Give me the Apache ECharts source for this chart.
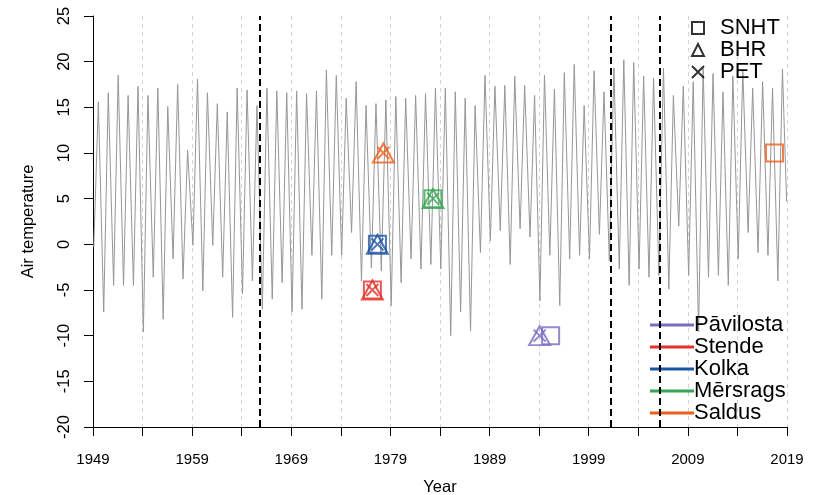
<!DOCTYPE html>
<html>
<head>
<meta charset="utf-8">
<script src="https://cdn.jsdelivr.net/npm/echarts@6/dist/echarts.min.js"></script>
<style>html,body{margin:0;padding:0;background:#fff}#c{width:819px;height:495px}</style>
</head>
<body>
<div id="c"></div>
<script>
// ---- data ----
const years = [];
for (let y = 1949; y <= 2018; y++) years.push(y);
// winter (January) minimum of each year, °C
const winterMin = [-0.3,-7.4,-4.5,-4.5,-4.5,-9.6,-3.6,-8.2,-1.6,-3.8,
  -0.1,-5.1,-0.1,-3.6,-8.0,-5.4,-4.0,-7.1,-6.0,-4.2,
  -7.4,-7.1,-1.2,-6.0,-1.2,-1.2,1.3,-4.0,-2.6,-2.9,
  -6.7,-4.2,-1.6,-2.7,-2.2,-2.7,-10.0,-7.4,-9.5,-0.9,
  0.4,1.5,-2.2,1.7,0.8,-6.2,-1.2,-6.7,-1.6,-1.2,
  -1.6,1.1,-1.8,-2.7,-4.5,-2.7,-3.6,-3.4,-4.9,2.0,
  -3.4,-9.6,-3.6,-3.4,-4.5,-1.6,1.3,-0.9,-1.2,-4.0];
// summer (July) maximum of each year, °C
const summerMax = [15.6,16.6,18.5,16.3,17.3,16.3,17.1,15.1,17.5,10.3,
  18.1,16.6,15.4,14.5,17.1,16.9,15.2,17.1,16.8,16.6,
  16.8,16.5,16.8,19.1,18.5,16.0,17.8,15.2,15.4,15.8,
  16.2,16.0,16.3,16.5,17.1,17.1,16.7,16.0,15.2,18.5,
  17.3,17.4,18.4,17.4,16.3,18.5,17.0,18.8,19.7,15.2,
  19.0,16.7,19.3,20.2,19.9,18.4,18.2,19.3,16.3,17.3,
  17.8,19.3,18.7,16.7,18.4,19.1,17.1,17.8,17.1,19.2];
const lastTime = 2018.96, lastValue = 4.7;

const changePoints = [1965.84, 2001.26, 2006.14];

const stations = ['Pāvilosta', 'Stende', 'Kolka', 'Mērsrags', 'Saldus'];
const stationColors = ['#7b6cc0', '#e2322b', '#1b55a6', '#35a652', '#ec5f1c'];
const stationLevel = [-10, -5, 0, 5, 10];
const snhtYears = [1995.16, 1977.18, 1977.69, 1983.29, 2017.74];
const bhrYears  = [1994.05, 1977.18, 1977.69, 1983.29, 1978.29];
const petYears  = [1994.05, 1977.18, 1977.69, 1983.29, 1978.29];
const methods = ['SNHT', 'BHR', 'PET'];

const xTicks = {min: 1949, max: 2019, step: 5, labelStep: 10};
const yTicks = {min: -20, max: 25, step: 5};

// ---- build ----
const tsData = [];
years.forEach((y, i) => {
  tsData.push([y + 0.08, winterMin[i]]);
  tsData.push([y + 0.54, summerMax[i]]);
});
tsData.push([lastTime, lastValue]);

const FONT = "'Liberation Sans', Arial, sans-serif";
function marks(yrs) {
  return yrs.map((y, i) => ({
    value: [y, stationLevel[i]],
    itemStyle: {color: 'transparent', borderColor: stationColors[i], borderWidth: 2}
  }));
}
const methodSymbols = ['rect', 'triangle', 'path://M0,0L10,10M0,10L10,0'];
const methodSizes = [[17, 17], [21, 19], [12, 12]];
const methodYears = [snhtYears, bhrYears, petYears];

const series = [{
  type: 'line', name: 'ts', data: tsData, showSymbol: false, symbol: 'none',
  lineStyle: {color: '#969696', width: 1}, silent: true, z: 2,
  markLine: {
    symbol: 'none', silent: true, label: {show: false},
    lineStyle: {color: '#000', width: 2, type: [7, 4]},
    data: changePoints.map(x => ({xAxis: x}))
  }
}];
methods.forEach((m, k) => {
  series.push({
    type: 'scatter', name: m, symbol: methodSymbols[k], symbolSize: methodSizes[k],
    itemStyle: {color: 'transparent', borderColor: '#000', borderWidth: 1.3},
    data: marks(methodYears[k]), z: 5
  });
});
stations.forEach((s, i) => {
  series.push({type: 'line', name: s, data: [], color: stationColors[i],
    itemStyle: {color: stationColors[i]}, lineStyle: {color: stationColors[i], width: 3}});
});

const chart = echarts.init(document.getElementById('c'), null, {renderer: 'canvas'});
chart.setOption({
  animation: false,
  backgroundColor: '#fff',
  textStyle: {fontFamily: FONT},
  grid: {left: 93, right: 32, top: 16, bottom: 68, containLabel: false, outerBoundsMode: 'none'},
  xAxis: {
    type: 'value', min: xTicks.min, max: xTicks.max, interval: xTicks.step,
    name: 'Year', nameLocation: 'middle', nameGap: 52,
    nameTextStyle: {fontSize: 16.5, color: '#000', fontFamily: FONT},
    axisLine: {show: true, onZero: false, lineStyle: {color: '#000', width: 1}},
    axisTick: {show: true, length: 9, lineStyle: {color: '#000'}},
    axisLabel: {
      fontSize: 15, color: '#000', margin: 25, fontFamily: FONT,
      formatter: v => ((v - xTicks.min) % xTicks.labelStep === 0 ? String(v) : '')
    },
    splitLine: {show: true, lineStyle: {color: '#d4d4d4', type: [4, 4], width: 1}}
  },
  yAxis: {
    type: 'value', min: yTicks.min, max: yTicks.max, interval: yTicks.step,
    name: 'Air temperature', nameLocation: 'middle', nameGap: 56,
    nameTextStyle: {fontSize: 16.5, color: '#000', fontFamily: FONT},
    axisLine: {show: true, onZero: false, lineStyle: {color: '#000', width: 1}},
    axisTick: {show: true, length: 9, lineStyle: {color: '#000'}},
    axisLabel: {fontSize: 16.5, color: '#000', rotate: 90, margin: 20, fontFamily: FONT},
    splitLine: {show: false}
  },
  legend: [{
    orient: 'vertical', left: 686, top: 12, itemGap: 0,
    itemWidth: 12, itemHeight: 12, selectedMode: false,
    data: methods.map(m => ({name: m})),
    textStyle: {fontSize: 22, color: '#000', lineHeight: 21.5, padding: [0, 0, 0, 11], fontFamily: FONT}
  }, {
    orient: 'vertical', left: 645, top: 309, itemGap: 0,
    itemWidth: 44, itemHeight: 3, icon: 'rect', selectedMode: false,
    data: stations.map(s => ({name: s})),
    textStyle: {fontSize: 22, color: '#000', lineHeight: 20.8, padding: [0, 0, 0, -5], fontFamily: FONT}
  }],
  series: series
});
</script>
</body>
</html>
